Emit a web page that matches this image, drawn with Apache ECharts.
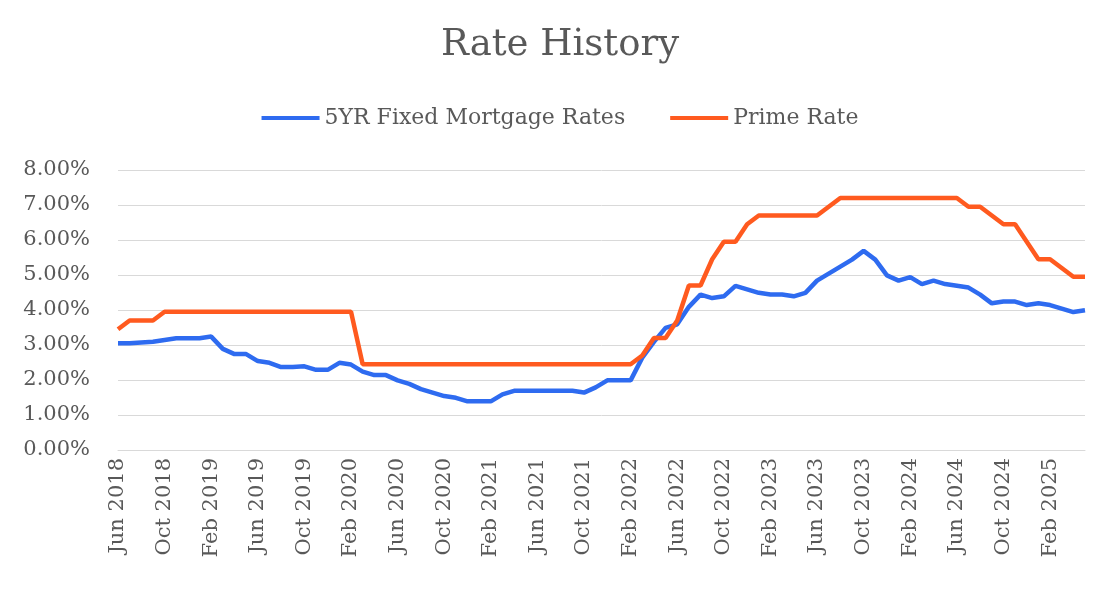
<!doctype html>
<html>
<head>
<meta charset="utf-8">
<script src="https://cdn.jsdelivr.net/npm/echarts@6/dist/echarts.min.js"></script>
<style>body{margin:0;background:#fff}#main{width:1120px;height:596px}</style>
</head>
<body>
<div id="main"></div>
<script>
var mon = ['Jan','Feb','Mar','Apr','May','Jun','Jul','Aug','Sep','Oct','Nov','Dec'];
var months = [];
for (var k = 0; k < 84; k++) { var m = 5 + k; months.push(mon[m % 12] + ' ' + (2018 + Math.floor(m / 12))); }

var mortgage = [3.05,3.05,3.07,3.09,3.14,3.19,3.19,3.19,3.24,2.89,2.74,2.74,
  2.54,2.49,2.37,2.37,2.39,2.29,2.29,2.49,2.44,2.24,2.14,2.14,
  1.99,1.89,1.74,1.64,1.54,1.49,1.39,1.39,1.39,1.59,1.69,1.69,
  1.69,1.69,1.69,1.69,1.64,1.79,1.99,1.99,1.99,2.64,3.09,3.49,
  3.59,4.09,4.44,4.34,4.39,4.69,4.59,4.49,4.44,4.44,4.39,4.49,
  4.84,5.04,5.24,5.44,5.69,5.44,4.99,4.84,4.94,4.74,4.84,4.74,
  4.69,4.64,4.44,4.19,4.24,4.24,4.14,4.19,4.14,4.04,3.94,3.99];
var prime = [3.45,3.70,3.70,3.70,3.95,3.95,3.95,3.95,3.95,3.95,3.95,3.95,
  3.95,3.95,3.95,3.95,3.95,3.95,3.95,3.95,3.95,2.45,2.45,2.45,
  2.45,2.45,2.45,2.45,2.45,2.45,2.45,2.45,2.45,2.45,2.45,2.45,
  2.45,2.45,2.45,2.45,2.45,2.45,2.45,2.45,2.45,2.70,3.20,3.20,
  3.70,4.70,4.70,5.45,5.95,5.95,6.45,6.70,6.70,6.70,6.70,6.70,
  6.70,6.95,7.20,7.20,7.20,7.20,7.20,7.20,7.20,7.20,7.20,7.20,
  7.20,6.95,6.95,6.70,6.45,6.45,5.95,5.45,5.45,5.20,4.95,4.95];

var font = 'DejaVu Serif';
var chart = echarts.init(document.getElementById('main'));
chart.setOption({
  textStyle: {fontFamily: font},
  title: {text: 'Rate History', left: 'center', top: 22,
    textStyle: {fontFamily: font, fontSize: 37, fontWeight: 'normal', color: '#595959'}},
  legend: {top: 102, itemGap: 45, itemWidth: 58, itemHeight: 4, icon: 'rect',
    textStyle: {fontFamily: font, fontSize: 22, color: '#595959'}},
  grid: {left: 118, right: 35, top: 170, bottom: 146},
  xAxis: {type: 'category', data: months, boundaryGap: false,
    axisLine: {lineStyle: {color: '#d9d9d9'}}, axisTick: {show: false},
    axisLabel: {rotate: 90, interval: 3, fontFamily: font, fontSize: 21, color: '#595959', margin: 8}},
  yAxis: {type: 'value', min: 0, max: 8, interval: 1,
    axisLabel: {formatter: function (v) { return v.toFixed(2) + '%'; }, fontFamily: font, fontSize: 21, color: '#595959', margin: 28},
    splitLine: {lineStyle: {color: '#d9d9d9'}}},
  series: [
    {name: '5YR Fixed Mortgage Rates', type: 'line', data: mortgage, showSymbol: false,
      lineStyle: {width: 4.5, color: '#2E6BF0'}, itemStyle: {color: '#2E6BF0'}},
    {name: 'Prime Rate', type: 'line', data: prime, showSymbol: false,
      lineStyle: {width: 4.5, color: '#FF5A1F'}, itemStyle: {color: '#FF5A1F'}}
  ]
});
</script>
</body>
</html>
